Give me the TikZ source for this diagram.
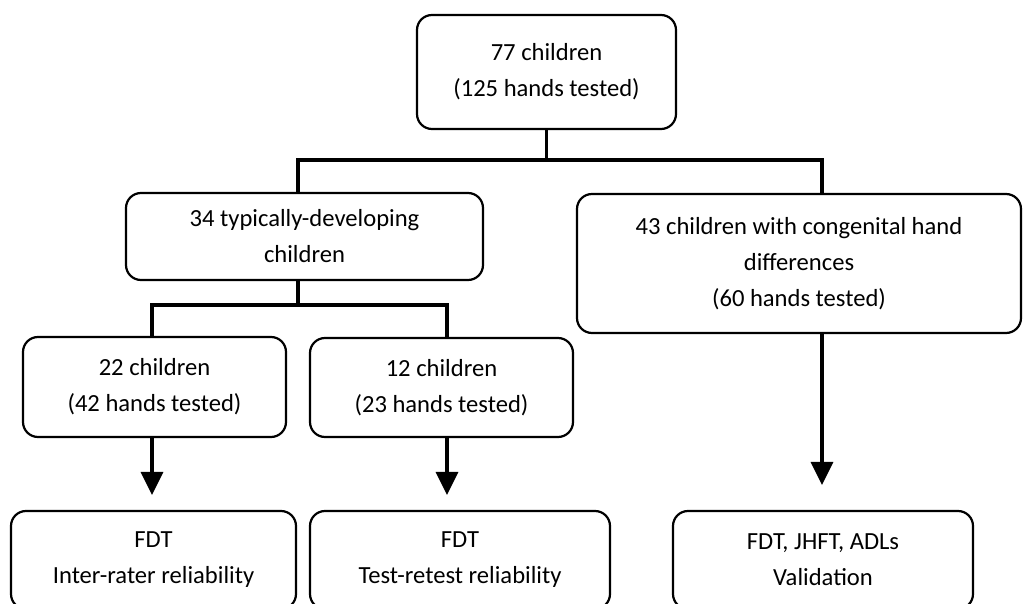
\documentclass[tikz,border=0pt]{standalone}
\usepackage{fontspec}
\setmainfont{Carlito}
\usetikzlibrary{arrows.meta}

\begin{document}
\begin{tikzpicture}[x=0.5pt, y=-0.5pt,
  box/.style={draw, line width=1.1pt, rounded corners=7.5pt, align=center, inner sep=0pt, font=\fontsize{12.3}{18}\selectfont},
  line/.style={line width=1.6pt},
  arr/.style={line width=1.6pt, -{Triangle[length=11.5pt, width=11pt]}}]
\useasboundingbox (0,0) rectangle (1023,604);
\clip (0,0) rectangle (1023,604);

\node[box, minimum width=129.5pt, minimum height=57pt] (top) at (546.5,72) {77 children\\(125 hands tested)};
\node[box, minimum width=178.5pt, minimum height=43.5pt] (typ) at (304.5,236.5) {34 typically-developing\\children};
\node[box, minimum width=222pt, minimum height=69.5pt] (cong) at (799,263.5) {43 children with congenital hand\\differences\\(60 hands tested)};
\node[box, minimum width=131.5pt, minimum height=50pt] (c22) at (154.5,387) {22 children\\(42 hands tested)};
\node[box, minimum width=131.5pt, minimum height=49.5pt] (c12) at (441.5,387.5) {12 children\\(23 hands tested)};
\node[box, minimum width=142.5pt, minimum height=49pt] (fdt1) at (153.5,560) {FDT\\Inter-rater reliability};
\node[box, minimum width=150pt, minimum height=49pt] (fdt2) at (460,560) {FDT\\Test-retest reliability};
\node[box, minimum width=150pt, minimum height=49pt] (fdt3) at (823,560) {FDT, JHFT, ADLs\\Validation};

% branch points
\coordinate (j1) at (298,160);
\coordinate (j2) at (822,160);
\coordinate (j3) at (152,305);
\coordinate (j4) at (447,305);

\draw[line] (top.south) -- (top.south |- j1);
\draw[line] (j1 |- typ.north) -- (j1) -- (j2) -- (j2 |- cong.north);
\draw[line] (j1 |- typ.south) -- (j1 |- j3);
\draw[line] (j3 |- c22.north) -- (j3) -- (j4) -- (j4 |- c12.north);

\draw[arr, shorten >=7.5pt] (j3 |- c22.south) -- (j3 |- fdt1.north);
\draw[arr, shorten >=7.5pt] (j4 |- c12.south) -- (j4 |- fdt2.north);
\draw[arr, shorten >=12.5pt] (j2 |- cong.south) -- (j2 |- fdt3.north);
\end{tikzpicture}
\end{document}
